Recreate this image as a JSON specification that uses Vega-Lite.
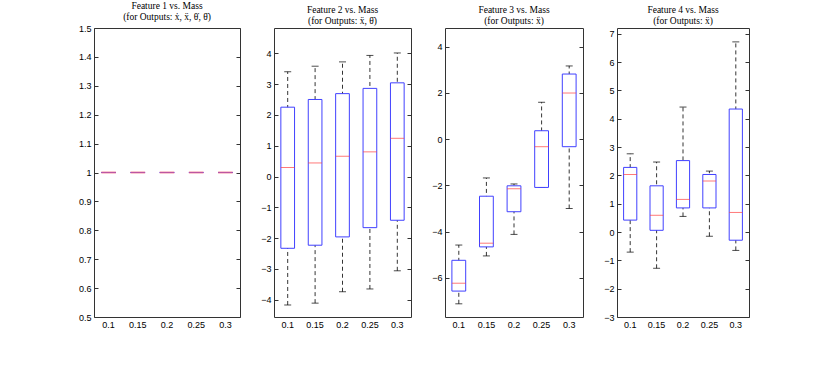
{
  "$schema": "https://vega.github.io/schema/vega-lite/v6.json",
  "background": "white",
  "padding": {"left": 77, "top": 0, "right": 5, "bottom": 5},
  "spacing": 34,
  "bounds": "flush",
  "config": {
    "view": {"stroke": "#333333", "strokeWidth": 1},
    "title": {"font": "Liberation Serif", "fontSize": 9.5, "fontWeight": "normal", "color": "#000000", "offset": 3, "lineHeight": 11, "anchor": "middle"},
    "axis": {"labelFont": "Liberation Sans", "labelFontSize": 9, "labelColor": "#000000", "grid": false, "domain": false, "tickColor": "#333333", "title": null},
    "axisX": {"ticks": false, "labelPadding": 3, "labelAngle": 0},
    "axisY": {"tickSize": -4, "labelPadding": 7}
  },
  "datasets": {
    "boxes": [
      {"panel": 1, "mass": "0.1", "lo": 1, "q1": 1, "med": 1, "q3": 1, "hi": 1},
      {"panel": 1, "mass": "0.15", "lo": 1, "q1": 1, "med": 1, "q3": 1, "hi": 1},
      {"panel": 1, "mass": "0.2", "lo": 1, "q1": 1, "med": 1, "q3": 1, "hi": 1},
      {"panel": 1, "mass": "0.25", "lo": 1, "q1": 1, "med": 1, "q3": 1, "hi": 1},
      {"panel": 1, "mass": "0.3", "lo": 1, "q1": 1, "med": 1, "q3": 1, "hi": 1},
      {"panel": 2, "mass": "0.1", "lo": -4.17, "q1": -2.33, "med": 0.29, "q3": 2.25, "hi": 3.40},
      {"panel": 2, "mass": "0.15", "lo": -4.11, "q1": -2.23, "med": 0.44, "q3": 2.50, "hi": 3.58},
      {"panel": 2, "mass": "0.2", "lo": -3.74, "q1": -1.96, "med": 0.66, "q3": 2.69, "hi": 3.72},
      {"panel": 2, "mass": "0.25", "lo": -3.65, "q1": -1.66, "med": 0.80, "q3": 2.86, "hi": 3.93},
      {"panel": 2, "mass": "0.3", "lo": -3.06, "q1": -1.42, "med": 1.24, "q3": 3.04, "hi": 4.01},
      {"panel": 3, "mass": "0.1", "lo": -7.12, "q1": -6.57, "med": -6.23, "q3": -5.24, "hi": -4.58},
      {"panel": 3, "mass": "0.15", "lo": -5.05, "q1": -4.66, "med": -4.50, "q3": -2.47, "hi": -1.68},
      {"panel": 3, "mass": "0.2", "lo": -4.12, "q1": -3.14, "med": -2.15, "q3": -2.02, "hi": -1.94},
      {"panel": 3, "mass": "0.25", "lo": -2.09, "q1": -2.09, "med": -0.33, "q3": 0.36, "hi": 1.59},
      {"panel": 3, "mass": "0.3", "lo": -3.00, "q1": -0.33, "med": 1.99, "q3": 2.81, "hi": 3.16},
      {"panel": 4, "mass": "0.1", "lo": -0.71, "q1": 0.42, "med": 2.03, "q3": 2.28, "hi": 2.76},
      {"panel": 4, "mass": "0.15", "lo": -1.28, "q1": 0.06, "med": 0.59, "q3": 1.63, "hi": 2.47},
      {"panel": 4, "mass": "0.2", "lo": 0.55, "q1": 0.85, "med": 1.15, "q3": 2.52, "hi": 4.41},
      {"panel": 4, "mass": "0.25", "lo": -0.15, "q1": 0.85, "med": 1.80, "q3": 2.03, "hi": 2.15},
      {"panel": 4, "mass": "0.3", "lo": -0.65, "q1": -0.29, "med": 0.69, "q3": 4.34, "hi": 6.71}
    ]
  },
  "hconcat": [
    {
      "width": 146, "height": 289,
      "title": {"text": ["Feature 1 vs. Mass", "(for Outputs: ẋ, ẍ, θ̇, θ̈)"], "fontWeight": "normal"},
      "data": {"name": "boxes"},
      "transform": [{"filter": "datum.panel == 1"}],
      "encoding": {"x": {"field": "mass", "type": "ordinal", "scale": {"paddingInner": 0, "paddingOuter": 0}, "axis": {}}},
      "resolve": {"axis": {"y": "independent"}},
      "layer": [
        {"mark": {"type": "rule", "strokeDash": [4, 3], "color": "#000000", "strokeWidth": 0.8},
         "encoding": {"y": {"field": "lo", "type": "quantitative", "scale": {"domain": [0.5, 1.5], "nice": false, "zero": false}, "axis": {"values": [0.5,0.6,0.7,0.8,0.9,1,1.1,1.2,1.3,1.4,1.5], "format": ".1~f"}}, "y2": {"field": "hi"}}},
        {"mark": {"type": "bar", "fill": "white", "stroke": "#4040ff", "strokeWidth": 1, "width": {"band": 0.5}}, "encoding": {"y": {"field": "q1", "type": "quantitative", "axis": {"orient": "right", "labels": false, "values": [0.5,0.6,0.7,0.8,0.9,1,1.1,1.2,1.3,1.4,1.5]}}, "y2": {"field": "q3"}}},
        {"mark": {"type": "tick", "color": "#f0607a", "size": 14.6, "thickness": 2}, "encoding": {"y": {"field": "med", "type": "quantitative", "axis": null}}}
      ]
    },
    {
      "width": 137, "height": 289,
      "title": {"text": ["Feature 2 vs. Mass", "(for Outputs: ẍ, θ̈)"], "fontWeight": "normal"},
      "data": {"name": "boxes"},
      "transform": [{"filter": "datum.panel == 2"}],
      "encoding": {"x": {"field": "mass", "type": "ordinal", "scale": {"paddingInner": 0, "paddingOuter": 0}, "axis": {}}},
      "resolve": {"axis": {"y": "independent"}},
      "layer": [
        {"mark": {"type": "rule", "strokeDash": [4, 3], "color": "#000000", "strokeWidth": 0.8},
         "encoding": {"y": {"field": "lo", "type": "quantitative", "scale": {"domain": [-4.56, 4.82], "nice": false, "zero": false}, "axis": {"values": [-4,-3,-2,-1,0,1,2,3,4]}}, "y2": {"field": "hi"}}},
        {"mark": {"type": "tick", "color": "#000000", "size": 7, "thickness": 1}, "encoding": {"y": {"field": "lo", "type": "quantitative", "axis": null}}},
        {"mark": {"type": "tick", "color": "#000000", "size": 7, "thickness": 1}, "encoding": {"y": {"field": "hi", "type": "quantitative", "axis": null}}},
        {"mark": {"type": "bar", "fill": "white", "stroke": "#4040ff", "strokeWidth": 1, "width": {"band": 0.5}}, "encoding": {"y": {"field": "q1", "type": "quantitative", "axis": {"orient": "right", "labels": false, "values": [-4,-3,-2,-1,0,1,2,3,4]}}, "y2": {"field": "q3"}}},
        {"mark": {"type": "tick", "color": "#ff4040", "size": 13.7, "thickness": 1}, "encoding": {"y": {"field": "med", "type": "quantitative", "axis": null}}}
      ]
    },
    {
      "width": 138, "height": 289,
      "title": {"text": ["Feature 3 vs. Mass", "(for Outputs: ẍ)"], "fontWeight": "normal"},
      "data": {"name": "boxes"},
      "transform": [{"filter": "datum.panel == 3"}],
      "encoding": {"x": {"field": "mass", "type": "ordinal", "scale": {"paddingInner": 0, "paddingOuter": 0}, "axis": {}}},
      "resolve": {"axis": {"y": "independent"}},
      "layer": [
        {"mark": {"type": "rule", "strokeDash": [4, 3], "color": "#000000", "strokeWidth": 0.8},
         "encoding": {"y": {"field": "lo", "type": "quantitative", "scale": {"domain": [-7.69, 4.8], "nice": false, "zero": false}, "axis": {"values": [-6,-4,-2,0,2,4]}}, "y2": {"field": "hi"}}},
        {"mark": {"type": "tick", "color": "#000000", "size": 7, "thickness": 1}, "encoding": {"y": {"field": "lo", "type": "quantitative", "axis": null}}},
        {"mark": {"type": "tick", "color": "#000000", "size": 7, "thickness": 1}, "encoding": {"y": {"field": "hi", "type": "quantitative", "axis": null}}},
        {"mark": {"type": "bar", "fill": "white", "stroke": "#4040ff", "strokeWidth": 1, "width": {"band": 0.5}}, "encoding": {"y": {"field": "q1", "type": "quantitative", "axis": {"orient": "right", "labels": false, "values": [-6,-4,-2,0,2,4]}}, "y2": {"field": "q3"}}},
        {"mark": {"type": "tick", "color": "#ff4040", "size": 13.8, "thickness": 1}, "encoding": {"y": {"field": "med", "type": "quantitative", "axis": null}}}
      ]
    },
    {
      "width": 132, "height": 289,
      "title": {"text": ["Feature 4 vs. Mass", "(for Outputs: ẍ)"], "fontWeight": "normal"},
      "data": {"name": "boxes"},
      "transform": [{"filter": "datum.panel == 4"}],
      "encoding": {"x": {"field": "mass", "type": "ordinal", "scale": {"paddingInner": 0, "paddingOuter": 0}, "axis": {}}},
      "resolve": {"axis": {"y": "independent"}},
      "layer": [
        {"mark": {"type": "rule", "strokeDash": [4, 3], "color": "#000000", "strokeWidth": 0.8},
         "encoding": {"y": {"field": "lo", "type": "quantitative", "scale": {"domain": [-3, 7.2], "nice": false, "zero": false}, "axis": {"values": [-3,-2,-1,0,1,2,3,4,5,6,7]}}, "y2": {"field": "hi"}}},
        {"mark": {"type": "tick", "color": "#000000", "size": 7, "thickness": 1}, "encoding": {"y": {"field": "lo", "type": "quantitative", "axis": null}}},
        {"mark": {"type": "tick", "color": "#000000", "size": 7, "thickness": 1}, "encoding": {"y": {"field": "hi", "type": "quantitative", "axis": null}}},
        {"mark": {"type": "bar", "fill": "white", "stroke": "#4040ff", "strokeWidth": 1, "width": {"band": 0.5}}, "encoding": {"y": {"field": "q1", "type": "quantitative", "axis": {"orient": "right", "labels": false, "values": [-3,-2,-1,0,1,2,3,4,5,6,7]}}, "y2": {"field": "q3"}}},
        {"mark": {"type": "tick", "color": "#ff4040", "size": 13.2, "thickness": 1}, "encoding": {"y": {"field": "med", "type": "quantitative", "axis": null}}}
      ]
    }
  ]
}
